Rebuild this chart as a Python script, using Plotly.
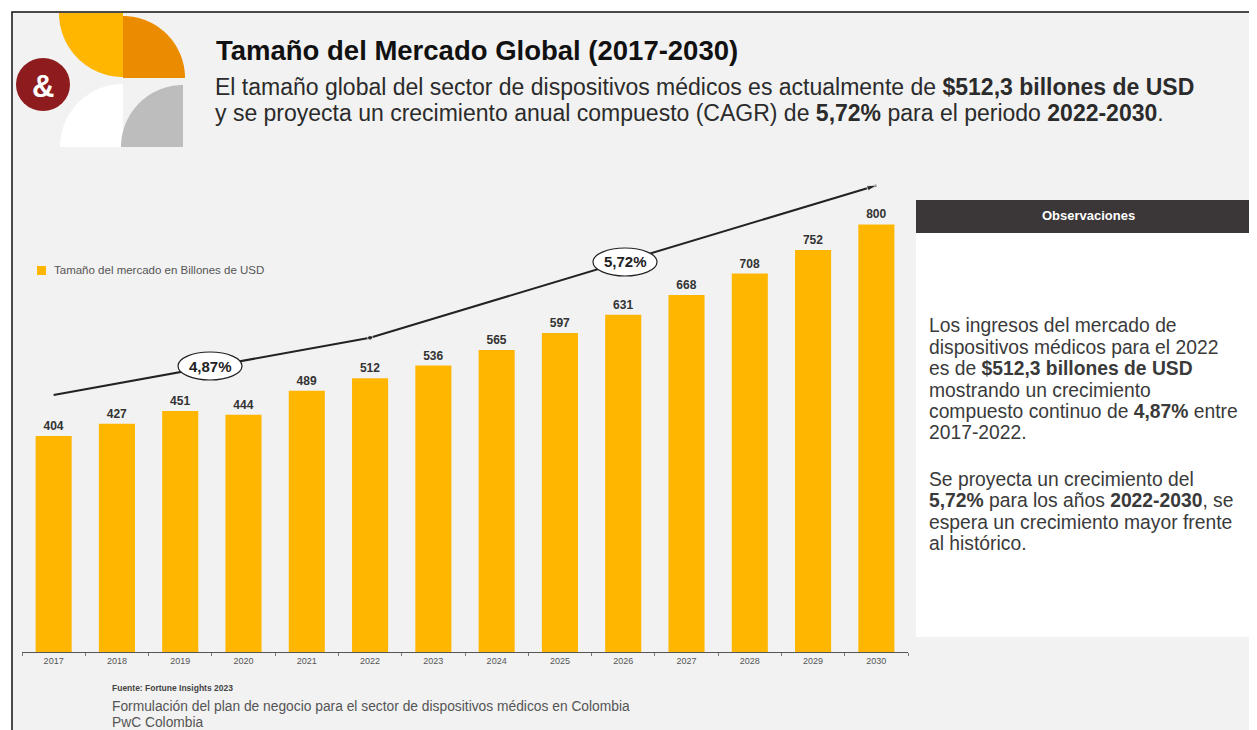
import numpy as np
import plotly.graph_objects as go

# ---------------- data ----------------
years = ["2017", "2018", "2019", "2020", "2021", "2022", "2023",
         "2024", "2025", "2026", "2027", "2028", "2029", "2030"]
market_size = [404, 427, 451, 444, 489, 512, 536, 565, 597, 631, 668, 708, 752, 800]
trend_years = ["2017", "2022", "2030"]
trend_values = [481, 588, 873]
cagr_labels = ["4,87%", "5,72%"]
series_name = "Tamaño del mercado en Billones de USD"

# ---------------- layout geometry (screen pixels; page body has 8px margin) ----------------
OFF = 8
FW, FH = 1257 - OFF, 730 - OFF
PLOT_L, PLOT_R, PLOT_T, PLOT_B = 22, 908, 171, 652   # screen pixels
ML = PLOT_L - OFF
MR = FW - (PLOT_R - OFF)
MT = PLOT_T - OFF
MB = FH - (PLOT_B - OFF)
PW = PLOT_R - PLOT_L
PH = PLOT_B - PLOT_T


def px(x):
    return (x - PLOT_L) / PW


def py(y):
    return (PLOT_B - y) / PH


FONT = "Liberation Sans, Arial, sans-serif"
YELLOW = "#FFB600"

fig = go.Figure()

fig.add_trace(go.Bar(
    x=years, y=market_size, name=series_name,
    marker=dict(color=YELLOW, line=dict(width=0)),
    texttemplate="<b>%{y}</b>", textposition="outside",
    textfont=dict(family=FONT, size=12, color="#333333"),
    cliponaxis=False, showlegend=False,
))

fig.add_trace(go.Scatter(
    x=trend_years, y=trend_values, mode="lines+markers",
    line=dict(color="#222222", width=2),
    marker=dict(symbol=["circle", "circle", "arrow"], size=[1, 5, 10],
                angleref="previous", color="#222222"),
    showlegend=False, hoverinfo="skip", cliponaxis=False,
))

shapes = []
annotations = []


def text(x, y, s, size, color="#222222", xanchor="left", yanchor="middle", bold=False):
    annotations.append(dict(xref="paper", yref="paper", x=px(x), y=py(y),
                            xanchor=xanchor, yanchor=yanchor, showarrow=False,
                            align="left", text=(f"<b>{s}</b>" if bold else s),
                            font=dict(family=FONT, size=size, color=color)))


# background with black frame
shapes.append(dict(type="rect", xref="paper", yref="paper",
                   x0=px(12), x1=px(1275), y0=py(12), y1=py(745),
                   fillcolor="#F2F2F2", line=dict(color="#111111", width=1.5),
                   layer="below"))


# logo
def wedge(cx, cy, r, a0, a1, color):
    a = np.radians(np.linspace(a0, a1, 40))
    xs = cx + r * np.cos(a)
    ys = cy + r * np.sin(a)
    pts = [f"M {px(cx):.5f},{py(cy):.5f}"]
    pts += [f"L {px(x):.5f},{py(y):.5f}" for x, y in zip(xs, ys)]
    return dict(type="path", xref="paper", yref="paper",
                path=" ".join(pts) + " Z", fillcolor=color,
                line=dict(width=0), layer="above")


shapes.append(wedge(123, 13, 64, 90, 180, "#FFB600"))
shapes.append(wedge(123, 78, 62, 270, 360, "#EB8C00"))
shapes.append(wedge(123, 147, 63, 180, 270, "#FFFFFF"))
shapes.append(wedge(183, 147, 62, 180, 270, "#BDBDBD"))
shapes.append(dict(type="circle", xref="paper", yref="paper",
                   x0=px(16), x1=px(70), y0=py(111), y1=py(58),
                   fillcolor="#8E1B1E", line=dict(width=0), layer="above"))
text(43, 86, "&", 31, "#FFFFFF", xanchor="center", bold=True)

# title and subtitle
text(214, 50, "Tamaño del Mercado Global (2017-2030)", 27.5, "#111111", bold=True)
text(213, 87, "El tamaño global del sector de dispositivos médicos es actualmente de "
              "<b>$512,3 billones de USD</b>", 23, "#2b2b2b")
text(213, 113, "y se proyecta un crecimiento anual compuesto (CAGR) de <b>5,72%</b> "
               "para el periodo <b>2022-2030</b>.", 23, "#2b2b2b")

# legend (manual)
shapes.append(dict(type="rect", xref="paper", yref="paper",
                   x0=px(37), x1=px(46), y0=py(275), y1=py(266),
                   fillcolor=YELLOW, line=dict(width=0)))
text(52, 270, series_name, 11.5, "#555555")

# CAGR ellipses
for (cx, cy), lab in zip([(210, 366), (625, 262)], cagr_labels):
    shapes.append(dict(type="circle", xref="paper", yref="paper",
                       x0=px(cx - 32), x1=px(cx + 32), y0=py(cy + 14), y1=py(cy - 14),
                       fillcolor="#FFFFFF", line=dict(color="#222222", width=1.2),
                       layer="above"))
    text(cx, cy, lab, 15, "#222222", xanchor="center", bold=True)

# right panel
shapes.append(dict(type="rect", xref="paper", yref="paper",
                   x0=px(916), x1=px(1262), y0=py(233), y1=py(637),
                   fillcolor="#FFFFFF", line=dict(width=0), layer="below"))
shapes.append(dict(type="rect", xref="paper", yref="paper",
                   x0=px(916), x1=px(1262), y0=py(200), y1=py(233),
                   fillcolor="#3B3637", line=dict(width=0), layer="above"))
text(1088, 216, "Observaciones", 13, "#FFFFFF", xanchor="center", bold=True)

panel_lines = [
    "Los ingresos del mercado de",
    "dispositivos médicos para el 2022",
    "es de <b>$512,3 billones de USD</b>",
    "mostrando un crecimiento",
    "compuesto continuo de <b>4,87%</b> entre",
    "2017-2022.",
    "Se proyecta un crecimiento del",
    "<b>5,72%</b> para los años <b>2022-2030</b>, se",
    "espera un crecimiento mayor frente",
    "al histórico.",
]
line_y = [325, 347, 368, 390, 411, 433, 479, 500, 522, 543]
for s, yy in zip(panel_lines, line_y):
    text(927, yy, s, 19.3, "#3a3a3a")

# footer
text(110, 688, "Fuente: Fortune Insights 2023", 8.5, "#444444", bold=True)
text(110, 706, "Formulación del plan de negocio para el sector de dispositivos médicos en Colombia",
     13.8, "#555555")
text(110, 722, "PwC Colombia", 13.8, "#555555")

fig.update_layout(
    width=FW, height=FH,
    margin=dict(l=ML, r=MR, t=MT, b=MB, pad=0),
    paper_bgcolor="#FFFFFF", plot_bgcolor="rgba(0,0,0,0)",
    bargap=0.43,
    font=dict(family=FONT),
    showlegend=False,
    shapes=shapes, annotations=annotations,
    xaxis=dict(type="category", range=[-0.5, len(years) - 0.5], showgrid=False,
               showline=True, linecolor="#555555",
               linewidth=1, ticks="outside", tickson="boundaries", ticklen=3,
               tickcolor="#777777", tickfont=dict(family=FONT, size=9, color="#555555"),
               fixedrange=True),
    yaxis=dict(range=[0, 900], visible=False, showgrid=False, fixedrange=True),
)

fig.write_html("out.html")
